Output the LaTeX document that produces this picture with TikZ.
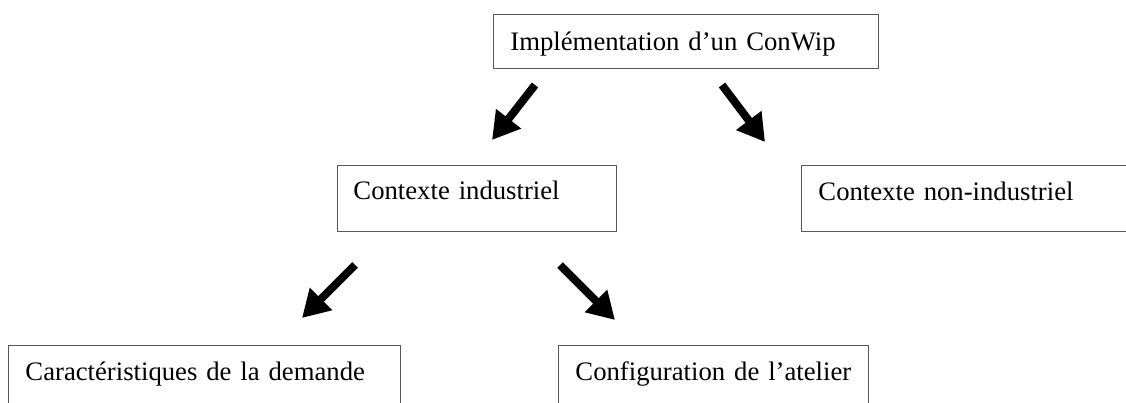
\documentclass[tikz,border=0pt]{standalone}
\usepackage{fontspec}
\setmainfont{Liberation Serif}
\usetikzlibrary{arrows.meta}
\tikzset{
  box/.style={draw=black!65, line width=0.9pt, anchor=north west, align=left,
    inner ysep=0pt, font=\fontsize{26.7}{30}\selectfont},
  bigarrow/.style={line width=8pt, -{Triangle[length=27pt,width=30pt]}}
}
\begin{document}
\begin{tikzpicture}[x=1pt,y=-1pt]
\clip (0,0) rectangle (1126,403);
\fill[white] (0,0) rectangle (1126,403);
\node[box, inner xsep=17pt, text width=351pt, text height=36pt, text depth=18pt] (top) at (493,14) {Implémentation d’un ConWip};
\node[box, inner xsep=16pt, text width=247pt, text height=34pt, text depth=32pt] (ind) at (337,165) {Contexte industriel};
\node[box, inner xsep=17pt, text width=305pt, text height=35pt, text depth=31pt] (nonind) at (801,165) {Contexte non-industriel};
\node[box, inner xsep=17pt, text width=358pt, text height=35pt, text depth=45pt] (dem) at (8,345) {Caractéristiques de la demande};
\node[box, inner xsep=17pt, text width=276pt, text height=35pt, text depth=45pt] (atel) at (558,345) {Configuration de l’atelier};
\coordinate (a1s) at (535,85);  \coordinate (a1e) at (492,140);
\coordinate (a2s) at (722,85);  \coordinate (a2e) at (765,142);
\coordinate (a3s) at (355,265); \coordinate (a3e) at (302,318);
\coordinate (a4s) at (560,265); \coordinate (a4e) at (615,320);
\draw[bigarrow] (a1s) -- (a1e);
\draw[bigarrow] (a2s) -- (a2e);
\draw[bigarrow] (a3s) -- (a3e);
\draw[bigarrow] (a4s) -- (a4e);
\end{tikzpicture}
\end{document}
